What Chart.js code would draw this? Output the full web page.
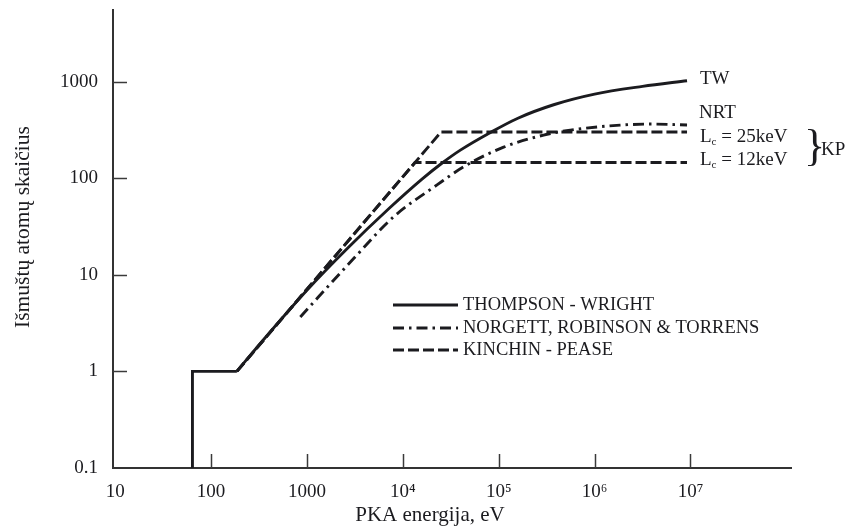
<!DOCTYPE html>
<html>
<head>
<meta charset="utf-8">
<style>
  html, body { margin: 0; padding: 0; background: #fff; }
</style>
<script src="https://cdn.jsdelivr.net/npm/chart.js@4.4.1/dist/chart.umd.min.js"></script>
</head>
<body>
<canvas id="cascade" width="850" height="528"></canvas>
<script>
// PKA energy (eV) vs. number of displaced atoms
var twStepEnergy = [64, 64, 186];
var twStepAtoms = [0.1, 1, 1];

var twEnergy = [186, 354, 1000, 2620, 7080, 15850, 25120, 39810, 79430, 158500, 374000, 1000000, 3160000, 9200000];
var twAtoms = [1, 2.14, 6.92, 18.6, 47.9, 97.7, 141, 195, 292, 417, 575, 741, 891, 1019];

var nrtEnergy = [853, 3070, 8020, 22750, 43050, 112500, 294000, 558000, 1850000, 3980000, 9200000];
var nrtAtoms = [3.66, 14.7, 39.8, 85.1, 131, 209, 279, 314, 354, 363, 355];

var kp25Energy = [186, 25000, 9200000];
var kp25Atoms = [1, 300, 300];
var kp12Energy = [186, 13400, 9200000];
var kp12Atoms = [1, 145, 145];

var xTickValues = [10, 100, 1000, 1e4, 1e5, 1e6, 1e7];
var xTickLabels = ['10', '100', '1000', '10\u2074', '10\u2075', '10\u2076', '10\u2077'];
var yTickValues = [0.1, 1, 10, 100, 1000];
var yTickLabels = ['0.1', '1', '10', '100', '1000'];

var legendNames = ['THOMPSON - WRIGHT', 'NORGETT, ROBINSON & TORRENS', 'KINCHIN - PEASE'];

var INK = '#1b1b1f';
var SERIF = '"Liberation Serif", "DejaVu Serif", serif';
var SOLID = [];
var DASHDOT = [11, 5, 2.5, 5];
var DASHED = [11, 4];
var LINE_W = 2.9;

function toPoints(xs, ys) {
  return xs.map(function (v, i) { return { x: v, y: ys[i] }; });
}

function lineSet(label, xs, ys, dash, smooth) {
  return {
    label: label,
    data: toPoints(xs, ys),
    borderColor: INK,
    borderWidth: LINE_W,
    borderDash: dash,
    pointRadius: 0,
    fill: false,
    cubicInterpolationMode: smooth ? 'monotone' : 'default',
    tension: 0
  };
}

function fixedTicks(values) {
  return function (scale) {
    scale.ticks = values.map(function (v) { return { value: v }; });
  };
}

// the plot area is fixed, so drop the label overhang chart.js reserves
function noOverhang(size, prop) {
  return function (s) {
    s[prop] = size;
    s.paddingTop = 0;
    s.paddingBottom = 0;
    s.paddingLeft = 0;
    s.paddingRight = 0;
  };
}

var decorations = {
  id: 'decorations',
  afterDraw: function (chart) {
    var ctx = chart.ctx;
    var xs = chart.scales.x, ys = chart.scales.y;
    var area = chart.chartArea;
    ctx.save();

    // inward tick marks
    ctx.strokeStyle = '#3a3a3a';
    ctx.lineWidth = 1.5;
    ctx.setLineDash([]);
    xTickValues.forEach(function (v) {
      if (v <= 10) return;
      var px = Math.round(xs.getPixelForValue(v)) + 0.5;
      ctx.beginPath();
      ctx.moveTo(px, area.bottom);
      ctx.lineTo(px, area.bottom - 14);
      ctx.stroke();
    });
    yTickValues.forEach(function (v) {
      if (v <= 0.1) return;
      var py = Math.round(ys.getPixelForValue(v)) + 0.5;
      ctx.beginPath();
      ctx.moveTo(area.left, py);
      ctx.lineTo(area.left + 14, py);
      ctx.stroke();
    });

    // axis titles
    ctx.fillStyle = INK;
    ctx.font = '21px ' + SERIF;
    ctx.textAlign = 'center';
    ctx.textBaseline = 'middle';
    ctx.fillText('PKA energija, eV', 430, 515);
    ctx.save();
    ctx.translate(23, 227);
    ctx.rotate(-Math.PI / 2);
    ctx.font = '21.5px ' + SERIF;
    ctx.fillText('Išmuštų atomų skaičius', 0, 0);
    ctx.restore();

    // legend
    var dashes = [SOLID, DASHDOT, DASHED];
    var rows = [305, 328, 350];
    ctx.textAlign = 'left';
    ctx.font = '18.5px ' + SERIF;
    legendNames.forEach(function (name, i) {
      ctx.strokeStyle = INK;
      ctx.lineWidth = LINE_W;
      ctx.setLineDash(dashes[i]);
      ctx.beginPath();
      ctx.moveTo(393, rows[i]);
      ctx.lineTo(458, rows[i]);
      ctx.stroke();
      ctx.setLineDash([]);
      ctx.fillText(name, 463, rows[i]);
    });

    // curve labels on the right
    ctx.font = '19px ' + SERIF;
    ctx.fillText('TW', 700, 79);
    ctx.fillText('NRT', 699, 113);
    [['25keV', 137], ['12keV', 160]].forEach(function (row) {
      var x = 700, y = row[1];
      ctx.font = '19px ' + SERIF;
      ctx.fillText('L', x, y);
      var w = ctx.measureText('L').width;
      ctx.font = '11px ' + SERIF;
      ctx.fillText('c', x + w, y + 5);
      var wc = ctx.measureText('c').width;
      ctx.font = '19px ' + SERIF;
      ctx.fillText(' = ' + row[0], x + w + wc, y);
    });
    ctx.font = '44px ' + SERIF;
    ctx.fillText('}', 804, 148);
    ctx.font = '19px ' + SERIF;
    ctx.fillText('KP', 821, 150);

    ctx.restore();
  }
};

new Chart(document.getElementById('cascade'), {
  type: 'line',
  data: {
    datasets: [
      lineSet('TW', twStepEnergy, twStepAtoms, SOLID, false),
      lineSet('THOMPSON - WRIGHT', twEnergy, twAtoms, SOLID, true),
      lineSet('NORGETT, ROBINSON & TORRENS', nrtEnergy, nrtAtoms, DASHDOT, true),
      lineSet('KINCHIN - PEASE (Lc = 25keV)', kp25Energy, kp25Atoms, DASHED, false),
      lineSet('KINCHIN - PEASE (Lc = 12keV)', kp12Energy, kp12Atoms, DASHED, false)
    ]
  },
  options: {
    responsive: false,
    animation: false,
    layout: { padding: { top: 10, right: 59, left: 0, bottom: 0 } },
    plugins: {
      legend: { display: false },
      tooltip: { enabled: false }
    },
    scales: {
      x: {
        type: 'logarithmic',
        min: 9.5,
        max: 1.117e8,
        afterBuildTicks: fixedTicks(xTickValues),
        afterFit: noOverhang(60, 'height'),
        grid: { display: false, drawTicks: false },
        border: { display: true, color: '#333', width: 2 },
        ticks: {
          autoSkip: false,
          maxRotation: 0,
          padding: 13,
          color: INK,
          font: { family: SERIF, size: 19 },
          callback: function (v) {
            var i = xTickValues.indexOf(v);
            return i < 0 ? '' : xTickLabels[i];
          }
        }
      },
      y: {
        type: 'logarithmic',
        min: 0.1,
        max: 5500,
        afterBuildTicks: fixedTicks(yTickValues),
        afterFit: noOverhang(113, 'width'),
        grid: { display: false, drawTicks: false },
        border: { display: true, color: '#333', width: 2 },
        ticks: {
          autoSkip: false,
          padding: 15,
          color: INK,
          font: { family: SERIF, size: 19 },
          callback: function (v) {
            var i = yTickValues.indexOf(v);
            return i < 0 ? '' : yTickLabels[i];
          }
        }
      }
    }
  },
  plugins: [decorations]
});
</script>
</body>
</html>
